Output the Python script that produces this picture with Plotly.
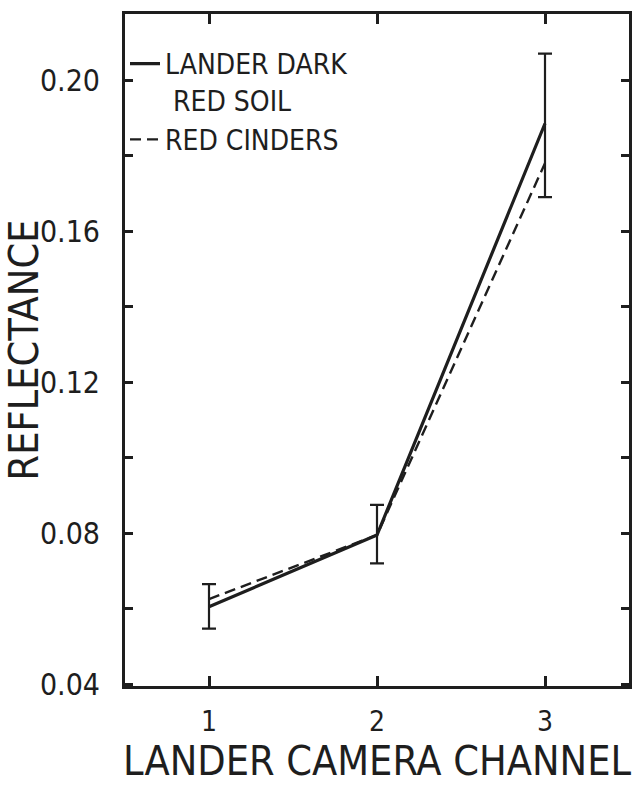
import plotly.graph_objects as go

channels = [1, 2, 3]
lander_dark_red_soil = [0.0605, 0.0795, 0.1885]
lander_err_plus = [0.0060, 0.0080, 0.0185]
lander_err_minus = [0.0058, 0.0075, 0.0195]
red_cinders = [0.0625, 0.0795, 0.1780]

y_tickvals = [0.04, 0.08, 0.12, 0.16, 0.20]
y_ticktext = ["0.04", "0.08", "0.12", "0.16", "0.20"]
x_tickvals = [1, 2, 3]
x_ticktext = ["1", "2", "3"]

ink = "#1e1e1e"
font_family = "DejaVu Sans Condensed, DejaVu Sans, Liberation Sans, sans-serif"

fig = go.Figure()
fig.add_trace(go.Scatter(
    x=channels, y=lander_dark_red_soil, mode="lines",
    name="LANDER DARK<br> RED SOIL", legendgroup="a",
    line=dict(color=ink, width=3.2),
    error_y=dict(type="data", symmetric=False, array=lander_err_plus,
                 arrayminus=lander_err_minus, color=ink, thickness=2.2, width=7),
))
fig.add_trace(go.Scatter(
    x=channels, y=red_cinders, mode="lines", name="RED CINDERS", legendgroup="b",
    line=dict(color=ink, width=2.4, dash="11px,6px"),
))

fig.update_layout(
    width=643, height=785,
    margin=dict(l=120, r=11, t=12, b=99),
    paper_bgcolor="white", plot_bgcolor="white",
    font=dict(family=font_family, color=ink, size=28),
    showlegend=True,
    legend=dict(x=0.0, y=0.963, xanchor="left", yanchor="top",
                bgcolor="rgba(0,0,0,0)", font=dict(size=28, color=ink),
                itemwidth=30, tracegroupgap=0, valign="top"),
    xaxis=dict(range=[0.5, 3.5], tickvals=x_tickvals, ticktext=x_ticktext,
               ticks="inside", ticklen=10, tickwidth=2.5, tickcolor=ink,
               showline=True, linewidth=3, linecolor=ink, mirror="ticks",
               showgrid=False, zeroline=False, ticklabelstandoff=8,
               tickfont=dict(size=28),
               title=dict(text="LANDER CAMERA CHANNEL", font=dict(size=41), standoff=4)),
    yaxis=dict(range=[0.0395, 0.2175], tickvals=y_tickvals, ticktext=y_ticktext,
               ticks="inside", ticklen=8, tickwidth=2.5, tickcolor=ink,
               minor=dict(dtick=0.02, tick0=0.04, ticks="inside", ticklen=8,
                          tickwidth=2.5, tickcolor=ink),
               showline=True, linewidth=3, linecolor=ink, mirror="ticks",
               showgrid=False, zeroline=False, ticklabelstandoff=16,
               tickfont=dict(size=30),
               title=dict(text="REFLECTANCE", font=dict(size=41), standoff=0)),
)

fig.write_html("out.html")
